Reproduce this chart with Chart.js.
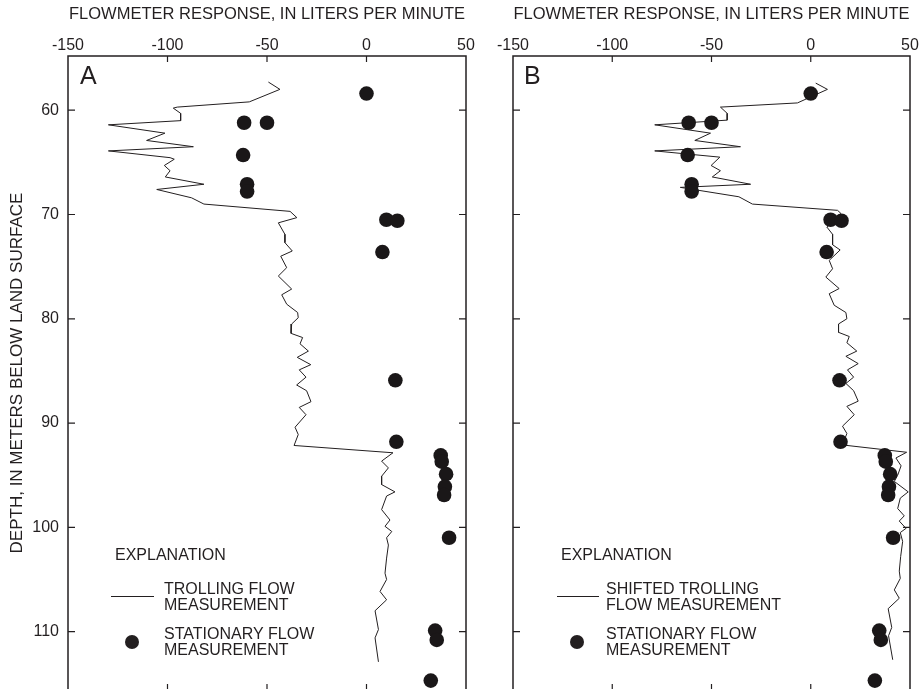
<!DOCTYPE html>
<html><head><meta charset="utf-8">
<script src="https://cdn.jsdelivr.net/npm/chart.js@4.4.1/dist/chart.umd.min.js"></script>
<style>
html,body{margin:0;padding:0;background:#fff;overflow:hidden;width:920px;height:689px;position:relative;}
canvas{position:absolute;top:0;}
#cA{left:0;} #cB{left:480px;}
</style></head><body>
<canvas id="cA" width="490" height="720"></canvas>
<canvas id="cB" width="440" height="720"></canvas>
<script>
// ---- tick labels ----
const flowTicks = [-150, -100, -50, 0, 50];
const depthTicks = [60, 70, 80, 90, 100, 110];

// ---- stationary flow measurements (same in both panels) ----
const stationaryDepth = [58.4, 61.2, 61.2, 64.3, 67.1, 67.8, 70.5, 70.6, 73.6, 85.9, 91.8, 93.1, 93.7, 94.9, 96.1, 96.9, 101.0, 109.9, 110.8, 114.7];
const stationaryFlow  = [0, -61.5, -50, -62, -60, -60, 10, 15.5, 8, 14.5, 15, 37.3, 37.8, 40, 39.4, 39, 41.5, 34.5, 35.3, 32.3];

// ---- panel A: trolling flow measurement ----
const trollDepthA = [57.3, 58.0, 59.2, 59.7, 59.8, 60.3, 61.0, 61.4, 62.2, 62.9, 63.5, 63.9, 64.55, 64.7, 65.3, 65.8, 66.4, 67.1, 67.6, 68.4, 69.0, 69.7, 70.3, 70.8, 71.9, 72.7, 73.5, 74.0, 75.1, 75.9, 77.15, 77.7, 78.6, 79.4, 79.9, 80.5, 81.4, 81.8, 82.4, 83.1, 83.7, 84.4, 84.9, 85.6, 86.35, 86.9, 87.95, 88.5, 89.2, 90.4, 91.1, 92.15, 92.85, 93.65, 94.3, 95.1, 95.9, 96.6, 97.0, 98.3, 99.3, 99.9, 100.4, 101.0, 101.7, 102.95, 104.4, 105.0, 106.15, 106.95, 108.0, 109.8, 110.6, 112.9];
const trollFlowA  = [-49.3, -43.5, -58.9, -95.1, -97.1, -93.4, -93.4, -129.7, -101.3, -110.5, -87, -129.7, -98.7, -96.6, -101.6, -98.7, -101.1, -81.7, -105.4, -87.9, -81.7, -38.4, -35, -44.3, -41, -41, -37.3, -43.1, -40.1, -44.3, -37.6, -42.6, -40.1, -34.6, -34.3, -37.6, -37.9, -32.1, -33.4, -29.2, -34.8, -28.0, -33.8, -30.4, -35.1, -30.1, -27.9, -33.8, -30.4, -35.9, -34.3, -36.4, 13.3, 7.6, 11.0, 7.6, 7.6, 14.3, 10.1, 7.6, 11.8, 9.3, 12.7, 10.1, 11.0, 10.1, 9.3, 10.1, 6.8, 10.1, 4.3, 6.0, 4.3, 6.0];

// ---- panel B: shifted trolling flow measurement ----
const trollDepthB = [57.4, 58.0, 59.3, 59.7, 60.3, 60.95, 61.4, 62.2, 62.9, 63.5, 63.9, 64.5, 65.3, 65.8, 66.4, 67.1, 67.4, 68.3, 69.0, 69.6, 69.9, 71.2, 71.9, 72.9, 73.4, 74.4, 75.2, 76.0, 77.1, 77.6, 78.7, 79.4, 80.0, 80.5, 81.3, 81.7, 82.3, 83.1, 83.6, 84.3, 84.9, 85.6, 86.2, 86.9, 87.9, 88.4, 89.2, 90.3, 91.0, 92.1, 92.8, 93.35, 94.1, 95.0, 95.6, 96.6, 97.2, 98.2, 98.9, 99.4, 100.1, 100.5, 101.35, 102.8, 104.2, 104.9, 106.0, 106.8, 107.8, 109.6, 110.4, 112.7];
const trollFlowB  = [2.5, 8.4, -6.7, -45.5, -42.1, -42.1, -78.6, -50.5, -58.4, -35.4, -78.6, -45.8, -50.2, -45.5, -49.6, -30.3, -65.7, -36.2, -29.4, 13.5, 15.2, 8.1, 11, 11, 14.8, 9.3, 11, 7.6, 14.3, 9.3, 11.8, 17.7, 18.2, 14.0, 14.0, 19.4, 18.2, 23.2, 17.7, 23.9, 18.5, 21.6, 17.7, 21.6, 23.9, 18.2, 21.9, 16.0, 18.2, 16.0, 48.3, 42.9, 45.5, 43.8, 42.1, 49.1, 45.1, 43.8, 47.1, 44.6, 48.0, 45.1, 46.3, 45.3, 44.6, 45.1, 42.1, 44.6, 39.0, 40.8, 39.2, 41.3];

const FONT = '"Liberation Sans", Arial, Helvetica, sans-serif';
const INK = '#231f20';

function pts(xs, ys) { return xs.map((x, i) => ({ x: x, y: ys[i] })); }

const framePlugin = {
  id: 'frame',
  afterDraw(chart, args, o) {
    const { ctx, chartArea: a, scales: { x, y } } = chart;
    ctx.save();
    ctx.strokeStyle = INK;
    ctx.lineWidth = 1.5;
    ctx.strokeRect(a.left, a.top, a.right - a.left, a.bottom - a.top);
    ctx.beginPath();
    x.ticks.forEach(t => {
      const px = x.getPixelForValue(t.value);
      if (px <= a.left + 1 || px >= a.right - 1) return;
      ctx.moveTo(px, a.top); ctx.lineTo(px, a.top + 6);
      ctx.moveTo(px, a.bottom); ctx.lineTo(px, a.bottom - 6);
    });
    y.ticks.forEach(t => {
      const py = y.getPixelForValue(t.value);
      ctx.moveTo(a.left, py); ctx.lineTo(a.left + 7, py);
      ctx.moveTo(a.right, py); ctx.lineTo(a.right - 7, py);
    });
    ctx.lineWidth = 1.2;
    ctx.stroke();

    // panel letter
    ctx.fillStyle = INK;
    ctx.textBaseline = 'alphabetic';
    ctx.textAlign = 'left';
    ctx.font = '25px ' + FONT;
    ctx.fillText(o.letter, o.letterX, 84);

    // explanation
    ctx.font = '16px ' + FONT;
    ctx.fillText('EXPLANATION', o.expX, 560);
    ctx.fillText(o.line1[0], o.textX, 594);
    ctx.fillText(o.line1[1], o.textX, 610);
    ctx.fillText('STATIONARY FLOW', o.textX, 639);
    ctx.fillText('MEASUREMENT', o.textX, 655);
    ctx.beginPath();
    ctx.lineWidth = 1;
    ctx.moveTo(o.lineX0, 596.5); ctx.lineTo(o.lineX1, 596.5);
    ctx.stroke();
    ctx.beginPath();
    ctx.arc(o.dotX, 642, 7, 0, Math.PI * 2);
    ctx.fill();
    ctx.restore();
  }
};

function makeChart(id, trollDepth, trollFlow, opt) {
  return new Chart(document.getElementById(id), {
    type: 'scatter',
    data: {
      datasets: [
        {
          label: 'Stationary flow measurement',
          data: pts(stationaryFlow, stationaryDepth),
          pointRadius: 7.3, pointHoverRadius: 7.3,
          backgroundColor: '#1a1718', borderColor: '#1a1718', borderWidth: 0,
          order: 0
        },
        {
          label: opt.lineLabel,
          data: pts(trollFlow, trollDepth),
          showLine: true, pointRadius: 0, pointHoverRadius: 0,
          borderColor: INK, borderWidth: 1, tension: 0,
          order: 1
        }
      ]
    },
    options: {
      responsive: false,
      animation: false,
      events: [],
      layout: { padding: { left: 0, top: 0, right: opt.padRight, bottom: 30 } },
      plugins: {
        legend: { display: false },
        tooltip: { enabled: false },
        frame: opt.frame
      },
      scales: {
        x: {
          type: 'linear', position: 'top', min: -150, max: 50,
          afterBuildTicks: s => { s.ticks = flowTicks.map(v => ({ value: v })); },
          afterFit: s => { s.height = 56; },
          grid: { display: false, drawTicks: false, tickLength: 0 }, border: { display: false },
          ticks: { color: INK, font: { family: FONT, size: 16 }, padding: 1, maxRotation: 0, autoSkip: false },
          title: { display: true, text: 'FLOWMETER RESPONSE, IN LITERS PER MINUTE', color: INK,
                   font: { family: FONT, size: 16.5 }, padding: { top: 5, bottom: 0 } }
        },
        y: {
          type: 'linear', reverse: true, min: 54.8, max: 115.6,
          afterBuildTicks: s => { s.ticks = depthTicks.map(v => ({ value: v })); },
          afterFit: s => { s.width = opt.yWidth; },
          grid: { display: false, drawTicks: false, tickLength: 0 }, border: { display: false },
          ticks: { display: opt.yLabels, color: INK, font: { family: FONT, size: 16 }, padding: 9 },
          title: { display: opt.yLabels, text: 'DEPTH, IN METERS BELOW LAND SURFACE', color: INK,
                   font: { family: FONT, size: 17 }, padding: { top: 7, bottom: 0 } }
        }
      }
    },
    plugins: [framePlugin]
  });
}

makeChart('cA', trollDepthA, trollFlowA, {
  lineLabel: 'Trolling flow measurement',
  padRight: 24, yWidth: 68, yLabels: true,
  frame: { letter: 'A', letterX: 80, expX: 115, textX: 164, lineX0: 111, lineX1: 154, dotX: 132,
           line1: ['TROLLING FLOW', 'MEASUREMENT'] }
});
makeChart('cB', trollDepthB, trollFlowB, {
  lineLabel: 'Shifted trolling flow measurement',
  padRight: 10, yWidth: 33, yLabels: false,
  frame: { letter: 'B', letterX: 524 - 480, expX: 561 - 480, textX: 606 - 480, lineX0: 557 - 480, lineX1: 599 - 480, dotX: 577 - 480,
           line1: ['SHIFTED TROLLING', 'FLOW MEASUREMENT'] }
});
</script>
</body></html>
